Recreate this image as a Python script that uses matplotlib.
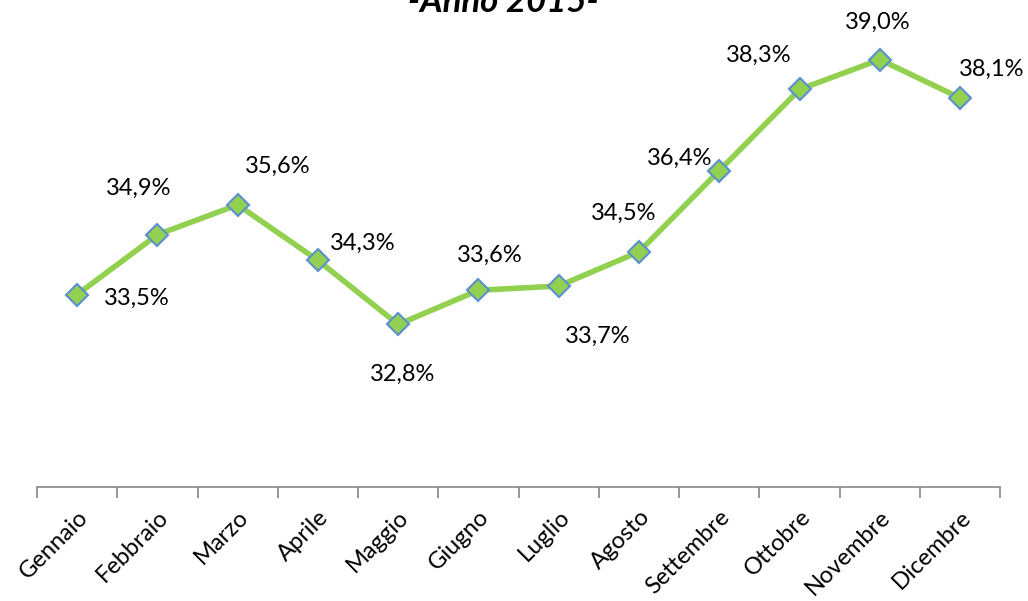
import matplotlib.pyplot as plt
import numpy as np

plt.rcParams['font.family'] = ['Lato', 'DejaVu Sans']

mesi = ['Gennaio', 'Febbraio', 'Marzo', 'Aprile', 'Maggio', 'Giugno',
        'Luglio', 'Agosto', 'Settembre', 'Ottobre', 'Novembre', 'Dicembre']
valori = [33.5, 34.9, 35.6, 34.3, 32.8, 33.6, 33.7, 34.5, 36.4, 38.3, 39.0, 38.1]

# label offsets in pixels, placed by hand like the original
offsets = [(60, -4), (-19, 46), (40, 38), (45, 17), (4, -50), (11, 35),
           (39, -50), (-15, 38), (-40, 12), (-41, 34), (-2, 37), (32, 29)]

fig = plt.figure(figsize=(10.28, 6.01), dpi=100)
ax = fig.add_axes([0.036, 0.19, 0.937, 0.782])

x = np.arange(len(mesi))
ax.plot(x, valori, color='#92D050', lw=4, marker='D', ms=11,
        mfc='#92D050', mec='#5B8FD0', mew=1.5, zorder=3)

for xi, v, (dx, dy) in zip(x, valori, offsets):
    txt = f'{v:.1f}%'.replace('.', ',')
    ax.annotate(txt, (xi, v), xytext=(dx, dy), textcoords='offset pixels',
                ha='center', va='center', fontsize=17)

ax.set_xlim(-0.5, len(mesi) - 0.5)
ax.set_ylim(29, 40)
ax.set_yticks([])
for s in ['top', 'right', 'left']:
    ax.spines[s].set_visible(False)
ax.spines['bottom'].set_color('#868686')
ax.spines['bottom'].set_linewidth(1.2)

ax.set_xticks(x)
ax.set_xticklabels(mesi, rotation=45, ha='right', va='top',
                   rotation_mode='anchor', fontsize=17)
ax.tick_params(axis='x', which='major', length=0, pad=14)
ax.set_xticks(np.arange(-0.5, len(mesi)), minor=True)
ax.tick_params(axis='x', which='minor', length=8, color='#868686', width=1.2)

fig.text(0.49, 1 - 12 / 601, '-Anno 2015-', ha='center', va='baseline',
         fontsize=25, fontweight='bold', fontstyle='italic')

fig.savefig('out.png', dpi=100)
